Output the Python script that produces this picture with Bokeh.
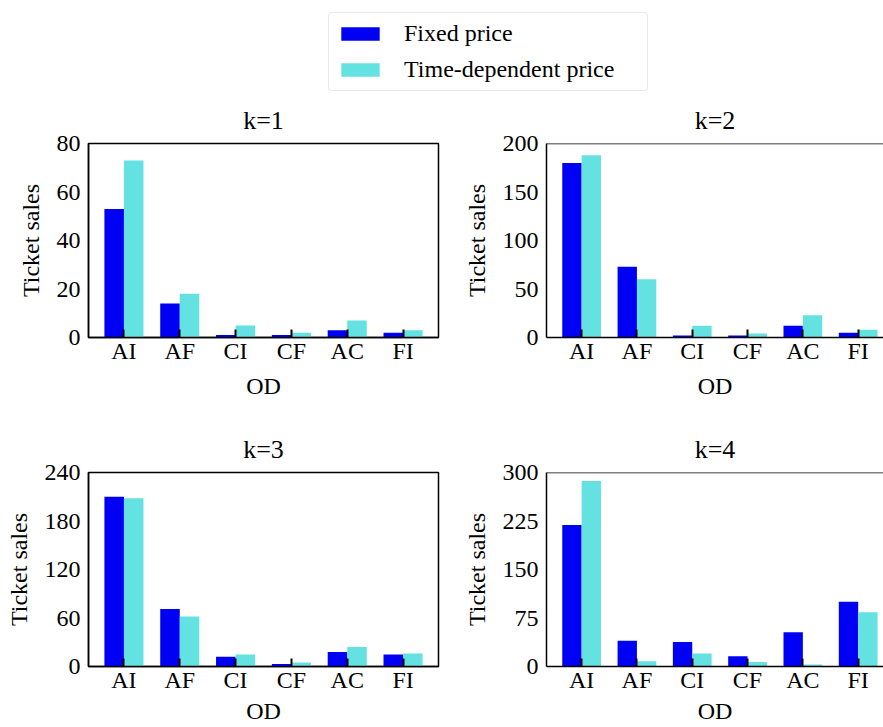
from bokeh.plotting import figure
from bokeh.layouts import column, row
from bokeh.models import FixedTicker, Legend, LegendItem, Span, Range1d, ColumnDataSource
from bokeh.transform import dodge
from bokeh.embed import file_html
from bokeh.resources import INLINE

ods = ["AI", "AF", "CI", "CF", "AC", "FI"]

fixed_k1 = [53, 14, 1, 1, 3, 2]
tdp_k1 = [73, 18, 5, 2, 7, 3]
fixed_k2 = [180, 73, 2, 2, 12, 5]
tdp_k2 = [188, 60, 12, 4, 23, 8]
fixed_k3 = [210, 71, 12, 3, 18, 15]
tdp_k3 = [208, 62, 15, 5, 24, 16]
fixed_k4 = [219, 40, 38, 16, 53, 100]
tdp_k4 = [287, 8, 20, 7, 3, 84]

yticks_k1 = [0, 20, 40, 60, 80]
yticks_k2 = [0, 50, 100, 150, 200]
yticks_k3 = [0, 60, 120, 180, 240]
yticks_k4 = [0, 75, 150, 225, 300]

titles = ["k=1", "k=2", "k=3", "k=4"]
series_names = ["Fixed price", "Time-dependent price"]

BLUE = "#0000f5"
CYAN = "#64e2e2"
FONT = "Liberation Serif"
FS = "24px"


def make_panel(title, fixed, tdp, yticks, left_col, top_row):
    width = 460 if left_col else 423
    height = 330 if top_row else 305
    x_end = 5.635 if left_col else 5.458
    p = figure(width=width, height=height,
               x_range=Range1d(-0.635, x_end), y_range=Range1d(0, yticks[-1]),
               output_backend="svg", toolbar_location=None,
               min_border_left=88 if left_col else 83,
               min_border_right=22 if left_col else 0,
               min_border_top=51 if top_row else 50,
               min_border_bottom=85 if top_row else 61)
    src = ColumnDataSource(dict(x=list(range(len(ods))), fixed=fixed, tdp=tdp))
    p.vbar(x=dodge("x", -0.175, range=p.x_range), top="fixed", width=0.35,
           source=src, fill_color=BLUE, line_color=None)
    p.vbar(x=dodge("x", 0.175, range=p.x_range), top="tdp", width=0.35,
           source=src, fill_color=CYAN, line_color=None)
    p.grid.visible = False
    p.title.text = title
    p.title.align = "center"
    p.title.text_font = FONT
    p.title.text_font_size = "26px"
    p.title.text_font_style = "normal"
    p.title.text_color = "black"
    p.title.standoff = 18
    if left_col:
        p.outline_line_color = "black"
        p.outline_line_width = 1.5
        p.outline_line_alpha = 1
    else:
        p.outline_line_color = None
        p.add_layout(Span(location=yticks[-1], dimension="width",
                          line_color="black", line_width=1.5))
    xa = p.xaxis[0]
    xa.ticker = FixedTicker(ticks=list(range(len(ods))))
    xa.major_label_overrides = {i: s for i, s in enumerate(ods)}
    xa.major_tick_in = 8
    xa.major_tick_out = 0
    xa.major_tick_line_width = 2
    xa.major_tick_line_color = "black"
    xa.minor_tick_line_color = None
    xa.axis_line_width = 1.5
    xa.axis_line_color = "black"
    xa.axis_label = "OD"
    xa.axis_label_text_font = FONT
    xa.axis_label_text_font_size = FS
    xa.axis_label_text_font_style = "normal"
    xa.axis_label_text_color = "black"
    xa.major_label_text_font = FONT
    xa.major_label_text_font_size = FS
    xa.major_label_text_color = "black"
    xa.major_label_standoff = 0
    xa.axis_label_standoff = 6 if top_row else 2
    ya = p.yaxis[0]
    ya.ticker = FixedTicker(ticks=yticks)
    ya.major_tick_in = 0
    ya.major_tick_out = 0
    ya.minor_tick_line_color = None
    ya.axis_line_width = 1.5
    ya.axis_line_color = "black"
    ya.axis_label = "Ticket sales"
    ya.axis_label_text_font = FONT
    ya.axis_label_text_font_size = FS
    ya.axis_label_text_font_style = "normal"
    ya.axis_label_text_color = "black"
    ya.major_label_text_font = FONT
    ya.major_label_text_font_size = FS
    ya.major_label_text_color = "black"
    ya.major_label_standoff = 8
    ya.axis_label_standoff = 10
    return p


p1 = make_panel(titles[0], fixed_k1, tdp_k1, yticks_k1, True, True)
p2 = make_panel(titles[1], fixed_k2, tdp_k2, yticks_k2, False, True)
p3 = make_panel(titles[2], fixed_k3, tdp_k3, yticks_k3, True, False)
p4 = make_panel(titles[3], fixed_k4, tdp_k4, yticks_k4, False, False)

# legend figure
lf = figure(width=883, height=92, output_backend="svg", toolbar_location=None,
            min_border=0, x_range=Range1d(0, 1), y_range=Range1d(0, 1))
lf.axis.visible = False
lf.grid.visible = False
lf.outline_line_color = None
r1 = lf.vbar(x=[5], top=[1], width=0.1, fill_color=BLUE, line_color=None)
r2 = lf.vbar(x=[5], top=[1], width=0.1, fill_color=CYAN, line_color=None)
leg = Legend(items=[LegendItem(label=series_names[0], renderers=[r1]),
                    LegendItem(label=series_names[1], renderers=[r2])],
             location=(328, 1))
leg.glyph_width = 48
leg.glyph_height = 17
leg.label_standoff = 20
leg.label_width = 236
leg.label_text_font = FONT
leg.label_text_font_size = "24px"
leg.label_text_color = "black"
leg.padding = 7
leg.spacing = 9
leg.margin = 0
leg.border_line_color = "#d4d4d4"
leg.border_line_width = 1.5
leg.border_radius = 4
lf.add_layout(leg)

layout = column(lf, row(p1, p2, spacing=0), row(p3, p4, spacing=0), spacing=0)

open("out.html", "w").write(file_html(layout, INLINE))
